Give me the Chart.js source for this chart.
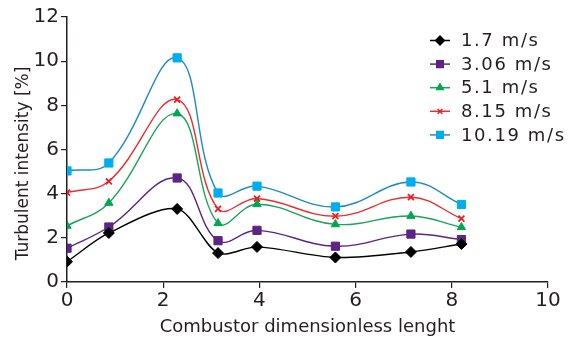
<!DOCTYPE html>
<html>
<head>
<meta charset="utf-8">
<script src="https://cdn.jsdelivr.net/npm/chart.js@4.4.1/dist/chart.umd.min.js"></script>
<style>
  html, body { margin: 0; padding: 0; background: #ffffff; }
  #wrap { width: 574px; height: 342px; position: relative; }
</style>
</head>
<body>
<div id="wrap"><canvas id="c" width="574" height="342"></canvas></div>
<script>
// ---- data ----
const positions = [0, 0.87, 2.29, 3.14, 3.95, 5.58, 7.15, 8.2];
const seriesNames = ["1.7 m/s", "3.06 m/s", "5.1 m/s", "8.15 m/s", "10.19 m/s"];
const v17   = [0.92, 2.22, 3.31, 1.31, 1.59, 1.11, 1.36, 1.72];
const v306  = [1.53, 2.49, 4.71, 1.87, 2.34, 1.62, 2.17, 1.92];
const v51   = [2.54, 3.58, 7.63, 2.66, 3.52, 2.61, 2.99, 2.48];
const v815  = [4.05, 4.56, 8.26, 3.31, 3.78, 2.98, 3.84, 2.87];
const v1019 = [5.03, 5.39, 10.15, 4.03, 4.34, 3.40, 4.53, 3.51];
const xTicks = [0, 2, 4, 6, 8, 10];
const yTicks = [0, 2, 4, 6, 8, 10, 12];
const xTitle = "Combustor dimensionless lenght";
const yTitle = "Turbulent intensity [%]";

const FONT = "'DejaVu Sans', sans-serif";
const AXIS = '#231f20';

const styles = [
  { line: '#000000', mark: '#000000', pt: 'rectRot', r: 5.5, tension: 0.3 },
  { line: '#5c2483', mark: '#5c2483', pt: 'rect', r: 5.8, tension: 0.4 },
  { line: '#1aa35a', mark: '#00a651', pt: 'triangle', r: 4.8, tension: 0.4 },
  { line: '#ee2b2e', mark: '#ed1c24', pt: 'crossRot', r: 4.2, tension: 0.4 },
  { line: '#1e8bc8', mark: '#00aeef', pt: 'rect', r: 5.8, tension: 0.4 }
];
const values = [v17, v306, v51, v815, v1019];

const datasets = values.map((vals, i) => ({
  label: seriesNames[i],
  data: vals.map((v, j) => ({ x: positions[j], y: v })),
  borderColor: styles[i].line,
  backgroundColor: styles[i].mark,
  pointBackgroundColor: styles[i].mark,
  pointBorderColor: styles[i].mark,
  pointBorderWidth: styles[i].pt === 'crossRot' ? 1.8 : 1,
  pointStyle: styles[i].pt,
  pointRadius: styles[i].r,
  borderWidth: 1.4,
  tension: styles[i].tension,
  fill: false
}));

const extrasPlugin = {
  id: 'extras',
  afterDraw(chart) {
    const ctx = chart.ctx;
    const x0 = 430, x1 = 450, tx = 461;
    const y0 = 40.5, dy = 23.6;
    ctx.save();
    chart.data.datasets.forEach((ds, i) => {
      const y = y0 + i * dy;
      ctx.strokeStyle = ds.borderColor;
      ctx.lineWidth = 1.5;
      ctx.beginPath();
      ctx.moveTo(x0, y); ctx.lineTo(x1, y); ctx.stroke();
      ctx.fillStyle = ds.pointBackgroundColor;
      ctx.strokeStyle = ds.pointBorderColor;
      Chart.helpers.drawPoint(ctx, {
        pointStyle: ds.pointStyle, radius: ds.pointRadius * 0.8, borderWidth: ds.pointBorderWidth
      }, (x0 + x1) / 2, y);
      ctx.fillStyle = AXIS;
      ctx.font = "18px " + FONT;
      ctx.letterSpacing = '1.6px';
      ctx.textBaseline = 'middle';
      ctx.textAlign = 'left';
      ctx.fillText(ds.label, tx, y + 1);
    });
    ctx.restore();
    // y axis title
    ctx.save();
    ctx.translate(24, 163.5);
    ctx.rotate(-Math.PI / 2);
    ctx.fillStyle = AXIS;
    ctx.font = "17px " + FONT;
    ctx.textAlign = 'center';
    ctx.textBaseline = 'middle';
    ctx.fillText(yTitle, 0, 0);
    ctx.restore();
  }
};

new Chart(document.getElementById('c'), {
  type: 'line',
  data: { datasets },
  plugins: [extrasPlugin],
  options: {
    responsive: false,
    animation: false,
    devicePixelRatio: 1,
    layout: { padding: { left: 0, right: 26, top: 17, bottom: 0 } },
    plugins: { legend: { display: false }, tooltip: { enabled: false } },
    scales: {
      x: {
        type: 'linear', min: 0, max: 10,
        afterBuildTicks: s => { s.ticks = xTicks.map(v => ({ value: v })); },
        afterFit: s => { s.height = 60; },
        grid: { drawOnChartArea: false, drawTicks: true, tickLength: 6, color: AXIS, lineWidth: 1.2 },
        border: { color: AXIS, width: 1.5 },
        ticks: { color: AXIS, font: { family: FONT, size: 20 }, padding: 1, maxRotation: 0 },
        title: { display: true, text: xTitle, color: AXIS, font: { family: FONT, size: 18 }, padding: { top: 0, bottom: 4 } }
      },
      y: {
        type: 'linear', min: 0, max: 12,
        afterBuildTicks: s => { s.ticks = yTicks.map(v => ({ value: v })); },
        afterFit: s => { s.width = 67; },
        grid: { drawOnChartArea: false, drawTicks: true, tickLength: 6, color: AXIS, lineWidth: 1.2 },
        border: { color: AXIS, width: 1.5 },
        ticks: { color: AXIS, font: { family: FONT, size: 20 }, padding: 2 }
      }
    }
  }
});
</script>
</body>
</html>
